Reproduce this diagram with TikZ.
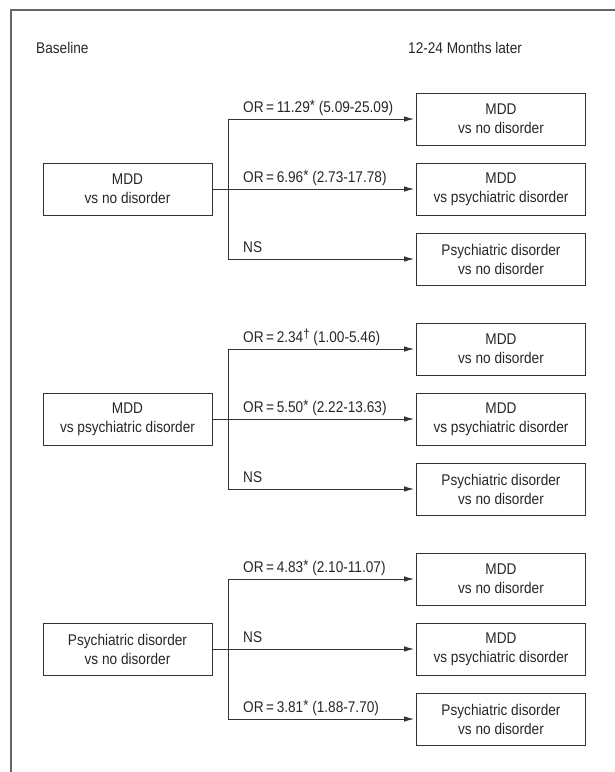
\documentclass[tikz,border=0pt]{standalone}
\usepackage{fontspec}
\setmainfont{Liberation Sans}[FakeStretch=0.88]
\usetikzlibrary{arrows.meta}
\newcommand{\sig}{\raisebox{1.5pt}{\fontsize{15}{15}\selectfont *}}
\newcommand{\trend}{\raisebox{3.5pt}{\fontsize{13}{13}\selectfont\dag}}

\begin{document}
\begin{tikzpicture}[x=1pt,y=-1pt,
        every node/.style={font=\fontsize{15.5}{19}\selectfont, text=black!85},
        box/.style={draw=black!80, line width=0.9pt, minimum width=169pt, minimum height=52pt, align=center, inner sep=0pt},
        lbl/.style={anchor=base west, inner sep=0pt},
        link/.style={draw=black!80, line width=0.9pt},
        arr/.style={link, -{Latex[length=10pt,width=5.5pt]}, shorten >=2pt}]
        \useasboundingbox (0,0) rectangle (615,772);
        \draw[black!60, line width=2pt] (11,772) -- (11,10) -- (615,10);
        \node[anchor=west, inner sep=0pt] (base) at (36,48) {Baseline};
        \node[anchor=west, inner sep=0pt] (later) at (408,48) {12-24 Months later};
        % MDD vs no disorder
        \node[box] (mn) at (127.5,189) {MDD\\vs no disorder};
        \node[box] (mn1) at (501,119) {MDD\\vs no disorder};
        \node[box] (mn2) at (501,189) {MDD\\vs psychiatric disorder};
        \node[box] (mn3) at (501,259) {Psychiatric disorder\\vs no disorder};
        \coordinate (mnt) at (228,119);
        \coordinate (mnb) at (228,259);
        \draw[link] (mnt) -- (mnb);
        \draw[arr] (mn) -- (mn2);
        \draw[arr] (mnt) -- (mn1);
        \draw[arr] (mnb) -- (mn3);
        \node[lbl] (mnl1) at (243,112) {OR\,=\,11.29\sig\ (5.09-25.09)};
        \node[lbl] (mnl2) at (243,182) {OR\,=\,6.96\sig\ (2.73-17.78)};
        \node[lbl] (mnl3) at (243,252) {NS};
        % MDD vs psychiatric disorder
        \node[box] (mp) at (127.5,419) {MDD\\vs psychiatric disorder};
        \node[box] (mp1) at (501,349) {MDD\\vs no disorder};
        \node[box] (mp2) at (501,419) {MDD\\vs psychiatric disorder};
        \node[box] (mp3) at (501,489) {Psychiatric disorder\\vs no disorder};
        \coordinate (mpt) at (228,349);
        \coordinate (mpb) at (228,489);
        \draw[link] (mpt) -- (mpb);
        \draw[arr] (mp) -- (mp2);
        \draw[arr] (mpt) -- (mp1);
        \draw[arr] (mpb) -- (mp3);
        \node[lbl] (mpl1) at (243,342) {OR\,=\,2.34\trend\ (1.00-5.46)};
        \node[lbl] (mpl2) at (243,412) {OR\,=\,5.50\sig\ (2.22-13.63)};
        \node[lbl] (mpl3) at (243,482) {NS};
        % Psychiatric disorder vs no disorder
        \node[box] (pn) at (127.5,649) {Psychiatric disorder\\vs no disorder};
        \node[box] (pn1) at (501,579) {MDD\\vs no disorder};
        \node[box] (pn2) at (501,649) {MDD\\vs psychiatric disorder};
        \node[box] (pn3) at (501,719) {Psychiatric disorder\\vs no disorder};
        \coordinate (pnt) at (228,579);
        \coordinate (pnb) at (228,719);
        \draw[link] (pnt) -- (pnb);
        \draw[arr] (pn) -- (pn2);
        \draw[arr] (pnt) -- (pn1);
        \draw[arr] (pnb) -- (pn3);
        \node[lbl] (pnl1) at (243,572) {OR\,=\,4.83\sig\ (2.10-11.07)};
        \node[lbl] (pnl2) at (243,642) {NS};
        \node[lbl] (pnl3) at (243,712) {OR\,=\,3.81\sig\ (1.88-7.70)};
\end{tikzpicture}
\end{document}
